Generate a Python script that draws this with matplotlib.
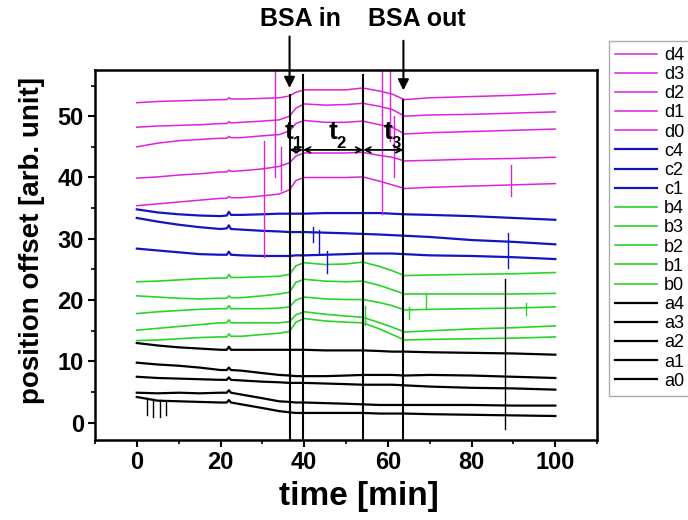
import numpy as np
import matplotlib
matplotlib.use("Agg")
from matplotlib import pyplot as plt

plt.rcParams['font.family'] = ['Liberation Sans', 'DejaVu Sans']

# time grid (min) at which the traces were read
t = [0, 5, 10, 15, 20, 21.5, 22, 22.5, 25, 30, 34, 36.5, 38, 40, 45, 50, 54, 58, 61, 64, 70, 80, 90, 100]

d4 = [52.2, 52.4, 52.5, 52.6, 52.7, 52.7, 53.0, 52.8, 52.8, 52.9, 53.0, 53.3, 53.9, 54.3, 54.3, 54.3, 54.6, 54.1, 53.6, 52.7, 53.0, 53.2, 53.4, 53.7]
d3 = [48.2, 48.4, 48.5, 48.6, 48.8, 48.8, 49.1, 48.9, 49.0, 49.2, 49.4, 50.0, 51.3, 52.0, 51.8, 51.9, 52.1, 51.6, 51.1, 50.0, 50.2, 50.3, 50.5, 50.7]
d2 = [45.0, 45.6, 46.0, 46.2, 46.4, 46.4, 46.7, 46.5, 46.5, 46.8, 47.0, 47.6, 48.8, 49.3, 49.0, 49.0, 49.2, 48.6, 48.2, 47.1, 47.3, 47.5, 47.7, 47.9]
d1 = [39.9, 40.1, 40.4, 40.6, 40.9, 40.9, 41.2, 41.0, 41.1, 41.4, 41.8, 42.4, 43.5, 44.0, 44.0, 44.0, 44.1, 43.6, 43.3, 42.7, 42.8, 43.0, 43.1, 43.3]
d0 = [35.4, 35.7, 36.0, 36.3, 36.6, 36.6, 36.9, 36.7, 36.7, 37.0, 37.3, 38.0, 39.5, 40.0, 40.0, 40.0, 40.1, 39.4, 38.8, 38.2, 38.4, 38.6, 38.8, 39.0]

c4 = [34.8, 34.3, 34.0, 33.8, 33.7, 33.8, 34.4, 33.9, 33.9, 34.0, 34.1, 34.1, 34.1, 34.1, 34.2, 34.2, 34.2, 34.2, 34.1, 34.0, 33.9, 33.7, 33.4, 33.1]
c2 = [33.4, 32.8, 32.3, 31.9, 31.6, 31.7, 32.2, 31.6, 31.5, 31.3, 31.2, 31.1, 31.1, 31.1, 31.0, 30.9, 30.8, 30.7, 30.6, 30.5, 30.3, 29.8, 29.5, 29.1]
c1 = [28.4, 28.1, 27.8, 27.5, 27.4, 27.4, 27.9, 27.4, 27.3, 27.2, 27.2, 27.2, 27.3, 27.3, 27.4, 27.5, 27.6, 27.6, 27.6, 27.5, 27.3, 27.2, 27.0, 26.7]

b4 = [23.0, 23.1, 23.3, 23.5, 23.6, 23.6, 24.2, 23.7, 23.7, 23.8, 23.9, 24.2, 25.6, 26.1, 25.8, 25.9, 26.2, 25.5, 24.8, 24.0, 24.1, 24.2, 24.3, 24.5]
b3 = [20.7, 20.5, 20.3, 20.2, 20.3, 20.3, 20.7, 20.4, 20.4, 20.7, 21.0, 21.3, 22.9, 23.4, 23.1, 23.0, 23.1, 22.4, 21.7, 21.0, 21.0, 21.0, 21.0, 21.1]
b2 = [17.8, 18.1, 18.3, 18.5, 18.6, 18.6, 19.1, 18.6, 18.6, 18.6, 18.7, 18.9, 20.0, 20.5, 20.2, 20.1, 20.1, 19.6, 19.1, 18.4, 18.5, 18.6, 18.7, 18.9]
b1 = [15.1, 15.4, 15.7, 16.0, 16.3, 16.3, 16.8, 16.3, 16.3, 16.3, 16.3, 16.5, 17.6, 18.1, 17.7, 17.4, 17.2, 16.3, 15.6, 14.8, 15.0, 15.3, 15.5, 15.8]
b0 = [13.4, 13.5, 13.7, 13.9, 14.0, 14.0, 14.5, 14.1, 14.1, 14.4, 14.6, 14.9, 16.4, 17.0, 16.6, 16.4, 16.3, 15.3, 14.4, 13.5, 13.6, 13.7, 13.8, 14.0]

a4 = [13.0, 12.6, 12.3, 12.1, 11.9, 11.9, 12.4, 11.9, 11.9, 11.9, 11.9, 11.9, 11.9, 11.9, 11.8, 11.8, 11.8, 11.7, 11.6, 11.6, 11.5, 11.4, 11.3, 11.1]
a3 = [9.8, 9.5, 9.3, 9.0, 8.6, 8.6, 9.0, 8.6, 8.5, 8.1, 7.8, 7.7, 7.6, 7.6, 7.6, 7.7, 7.8, 7.8, 7.8, 7.7, 7.8, 7.7, 7.5, 7.3]
a2 = [7.5, 7.3, 7.2, 7.1, 7.0, 7.0, 7.4, 7.0, 6.9, 6.7, 6.6, 6.5, 6.5, 6.5, 6.4, 6.3, 6.2, 6.2, 6.2, 6.1, 5.9, 5.7, 5.6, 5.4]
a1 = [4.9, 4.8, 4.9, 4.8, 4.9, 4.9, 5.3, 4.9, 4.6, 4.0, 3.5, 3.4, 3.3, 3.3, 3.2, 3.1, 3.0, 2.9, 2.9, 2.9, 2.9, 2.9, 2.8, 2.8]
a0 = [4.2, 3.6, 3.5, 3.4, 3.3, 3.3, 3.7, 3.3, 3.0, 2.4, 1.9, 1.7, 1.6, 1.6, 1.6, 1.6, 1.6, 1.5, 1.5, 1.5, 1.4, 1.3, 1.2, 1.1]

names = ["d4", "d3", "d2", "d1", "d0", "c4", "c2", "c1",
         "b4", "b3", "b2", "b1", "b0", "a4", "a3", "a2", "a1", "a0"]
series = [d4, d3, d2, d1, d0, c4, c2, c1, b4, b3, b2, b1, b0, a4, a3, a2, a1, a0]

# spikes in the raw traces: (time, low, high)
spikes_d = [(30.3, 27.0, 46.0), (33.0, 40.0, 57.5), (34.5, 38.0, 45.0),
            (58.5, 34.0, 57.5), (60.5, 46.0, 57.5), (61.5, 40.0, 50.0), (89.5, 37.0, 42.0)]
spikes_c = [(42.0, 29.5, 32.0), (43.5, 27.5, 31.4), (45.5, 24.5, 28.0), (88.8, 25.2, 31.0)]
spikes_b = [(54.5, 16.0, 19.0), (65.0, 17.0, 18.8), (69.0, 18.5, 21.0), (93.0, 17.5, 19.5)]
spikes_a = [(88.0, -1.0, 23.5), (2.4, 1.3, 4.0), (3.8, 1.0, 3.8), (5.5, 0.9, 3.7), (7.0, 1.3, 3.6)]

marks = [36.5, 39.7, 54.1, 63.7]
mark_tops = [53.4, 56.7, 56.7, 52.6]

col = {"d": "#dd22dd", "c": "#1414c0", "b": "#2ad42a", "a": "#000000"}
lw = {"d": 1.1, "c": 1.6, "b": 1.2, "a": 1.6}

fig = plt.figure(figsize=(6.88, 5.2), dpi=100)
ax = fig.add_axes([0.138, 0.154, 0.73, 0.711])

for name, s in zip(names, series):
    ax.plot(t, s, color=col[name[0]], lw=lw[name[0]], label=name)

for key, sp in (("d", spikes_d), ("c", spikes_c), ("b", spikes_b), ("a", spikes_a)):
    for x, lo, hi in sp:
        ax.plot([x, x], [lo, hi], color=col[key], lw=1.0)

ax.set_xlim(-10, 110)
ax.set_ylim(-2.8, 57.5)

for x, top in zip(marks, mark_tops):
    ax.plot([x, x], [-2.8, top], color="black", lw=1.5)

# time intervals
ya = 44.5
for x0, x1 in zip(marks[:-1], marks[1:]):
    ax.annotate("", xy=(x0, ya), xytext=(x1, ya),
                arrowprops=dict(arrowstyle="<->", color="black", lw=1.3, shrinkA=0, shrinkB=0))
for x, lab in zip([36.5, 46.8, 60.0], ["1", "2", "3"]):
    ax.text(x, 47.4, "t", fontsize=19, fontweight="bold", ha="center", va="center")
    ax.text(x + 1.9, 45.6, lab, fontsize=12, fontweight="bold", ha="center", va="center")

# BSA in / out
ax.annotate("", xy=(36.5, 54.6), xytext=(36.5, 63.0), annotation_clip=False,
            arrowprops=dict(arrowstyle="-|>", color="black", lw=1.5, mutation_scale=16, shrinkA=0, shrinkB=0))
ax.annotate("", xy=(63.7, 54.2), xytext=(63.7, 62.3), annotation_clip=False,
            arrowprops=dict(arrowstyle="-|>", color="black", lw=1.5, mutation_scale=16, shrinkA=0, shrinkB=0))
ax.text(39.2, 65.9, "BSA in", fontsize=18, fontweight="bold", ha="center", va="center", clip_on=False)
ax.text(66.8, 65.9, "BSA out", fontsize=18, fontweight="bold", ha="center", va="center", clip_on=False)

ax.set_xticks([0, 20, 40, 60, 80, 100])
ax.set_xticks(np.arange(-10, 111, 10), minor=True)
ax.set_yticks([0, 10, 20, 30, 40, 50])
ax.set_yticks(np.arange(-0, 56, 5), minor=True)
ax.tick_params(which="major", direction="out", length=5, width=1.5, labelsize=17, pad=3)
ax.tick_params(which="minor", direction="out", length=3, width=1.2)
for lab in ax.get_xticklabels() + ax.get_yticklabels():
    lab.set_fontweight("bold")
for sp in ax.spines.values():
    sp.set_linewidth(1.8)

ax.set_xlabel("time [min]", fontsize=24, fontweight="bold")
ax.set_ylabel("position offset [arb. unit]", fontsize=20, fontweight="bold")
ax.xaxis.set_label_coords(0.526, -0.152)
ax.xaxis.label.set_va("center")
ax.yaxis.set_label_coords(-0.125, 0.54)
ax.yaxis.label.set_va("center")

fig.legend(loc="upper left", bbox_to_anchor=(0.885, 0.922), fontsize=13, frameon=True,
           fancybox=False, edgecolor="#999999", handlelength=2.3, labelspacing=0.12,
           borderpad=0.35, handletextpad=0.4, borderaxespad=0)

plt.savefig("out.png", dpi=100)
